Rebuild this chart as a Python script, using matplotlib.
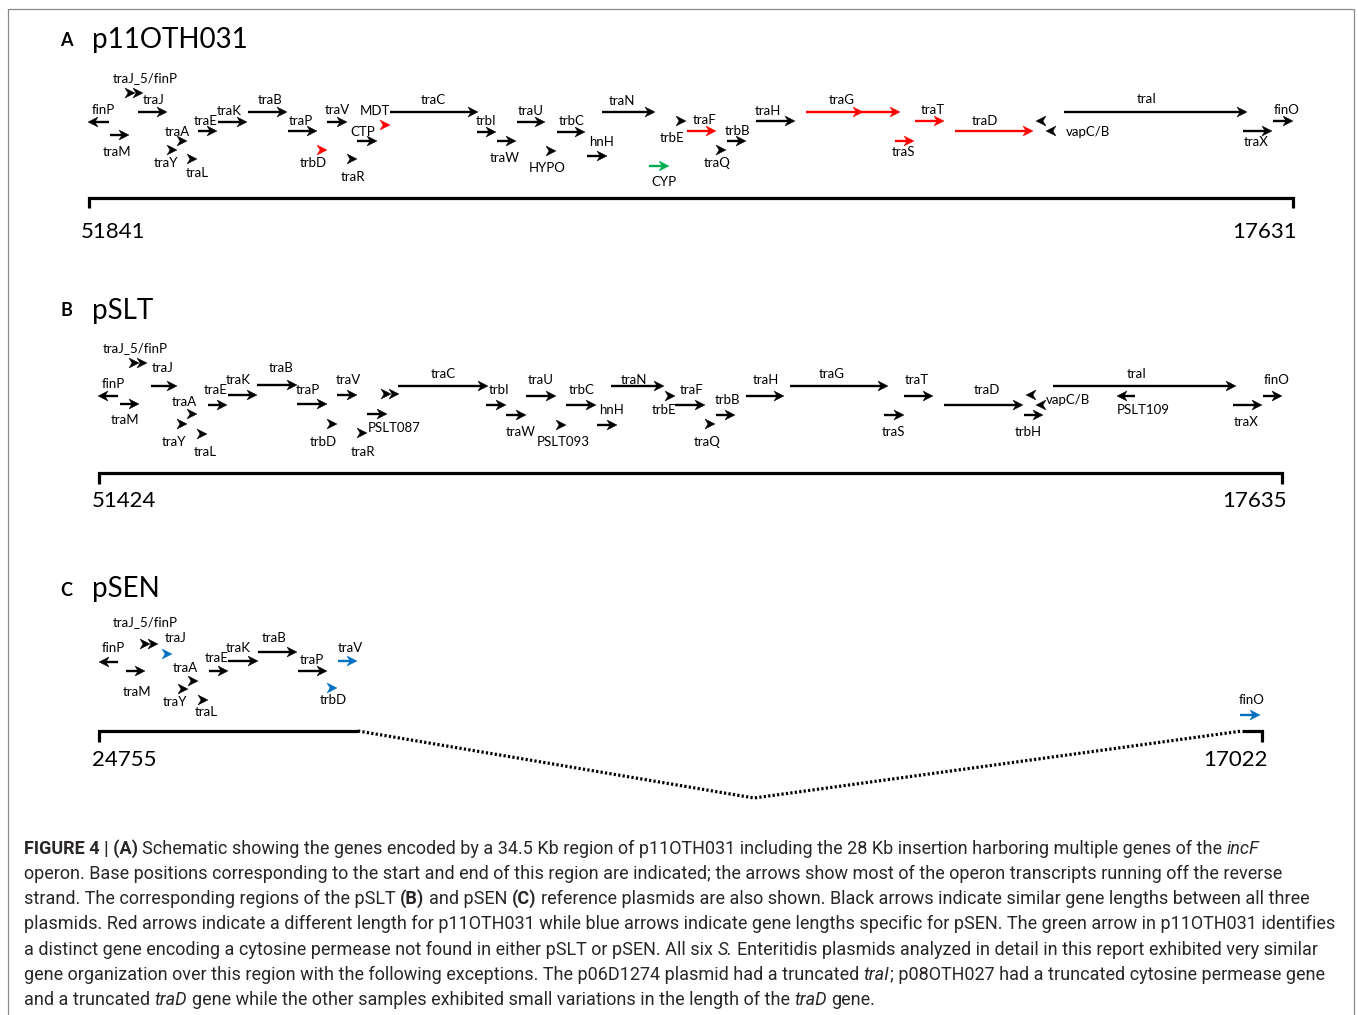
import matplotlib.pyplot as plt
from matplotlib.patches import Polygon, Rectangle

# ---- gene maps (map coordinate along the region, track = row position) ----
# kind: 'line' = full arrow, 'head' = short gene drawn as arrow head, 'double' = two heads
# colour code: k = similar length, r = different in p11OTH031, b = pSEN specific, g = unique

# A  p11OTH031
a_name = ['finP', 'traM', 'traJ_5/finP', 'traJ', 'traA', 'traY', 'traL', 'traE', 'traK', 'traB',
          'traP', 'trbD', 'traV', 'traR', 'CTP', 'MDT', 'traC', 'trbI', 'traW', 'traU', 'HYPO',
          'trbC', 'hnH', 'traN', 'trbE', 'CYP', 'traF', 'traQ', 'trbB', 'traH', 'traG', '',
          'traS', 'traT', 'traD', '', 'vapC/B', 'traI', 'traX', 'finO']
a_start = [109, 110, 125, 138, 177, 167, 187, 198, 218, 248, 288, 317, 327, 347, 357, 380, 390,
           477, 497, 517, 546, 557, 587, 602, 676, 649, 687, 716, 727, 756, 806, 860, 895, 915,
           955, 1045, 1055, 1064, 1243, 1273]
a_end = [88, 129, 143, 167, 187, 177, 197, 217, 247, 287, 317, 327, 347, 357, 377, 390, 478,
         496, 516, 545, 556, 585, 607, 655, 686, 669, 716, 726, 746, 795, 863, 900, 914, 944,
         1033, 1036, 1046, 1247, 1272, 1293]
a_track = [122, 135, 93, 112, 141, 150, 159, 131, 122, 112, 131, 150, 122, 159, 141, 125, 112,
           132, 141, 122, 151, 132, 156, 112, 121, 166, 131, 150, 141, 121, 112, 112, 141, 121,
           131, 121, 131, 112, 131, 121]
a_kind = ['line', 'line', 'double', 'line', 'head', 'head', 'head', 'line', 'line', 'line',
          'line', 'head', 'line', 'head', 'line', 'head', 'line', 'line', 'line', 'line', 'head',
          'line', 'line', 'line', 'head', 'line', 'line', 'head', 'line', 'line', 'line', 'line',
          'line', 'line', 'line', 'head', 'head', 'line', 'line', 'line']
a_color = ['k', 'k', 'k', 'k', 'k', 'k', 'k', 'k', 'k', 'k', 'k', 'r', 'k', 'k', 'k', 'r', 'k',
           'k', 'k', 'k', 'k', 'k', 'k', 'k', 'k', 'g', 'r', 'k', 'k', 'k', 'r', 'r', 'r', 'r',
           'r', 'k', 'k', 'k', 'k', 'k']

# B  pSLT
b_name = ['traJ_5/finP', 'traJ', 'finP', 'traM', 'traA', 'traY', 'traL', 'traE', 'traK', 'traB',
          'traP', 'trbD', 'traV', 'traR', '', 'PSLT087', 'traC', 'trbI', 'traW', 'traU',
          'PSLT093', 'trbC', 'hnH', 'traN', 'trbE', 'traF', 'traQ', 'trbB', 'traH', 'traG',
          'traS', 'traT', 'traD', '', 'vapC/B', 'trbH', 'traI', 'PSLT109', 'traX', 'finO']
b_start = [130, 151, 118, 120, 187, 178, 198, 208, 228, 257, 297, 327, 337, 357, 385, 367, 398,
           486, 506, 526, 556, 566, 597, 611, 665, 675, 705, 716, 746, 790, 884, 904, 944, 1035,
           1045, 1024, 1053, 1135, 1233, 1263]
b_end = [147, 177, 98, 139, 197, 187, 207, 227, 257, 297, 327, 337, 357, 367, 399, 387, 488,
         506, 526, 556, 566, 596, 617, 664, 675, 705, 715, 735, 784, 888, 904, 933, 1023, 1026,
         1036, 1043, 1236, 1117, 1262, 1282]
b_track = [363, 386, 396, 404, 414, 424, 434, 405, 395, 385, 404, 424, 395, 433, 394, 414, 386,
           405, 415, 396, 425, 405, 425, 386, 396, 405, 424, 415, 396, 386, 415, 396, 405, 395,
           405, 415, 386, 396, 405, 396]
b_kind = ['double', 'line', 'line', 'line', 'head', 'head', 'head', 'line', 'line', 'line',
          'line', 'head', 'line', 'head', 'double', 'line', 'line', 'line', 'line', 'line',
          'head', 'line', 'line', 'line', 'head', 'line', 'head', 'line', 'line', 'line',
          'line', 'line', 'line', 'head', 'head', 'line', 'line', 'line', 'line', 'line']
b_color = ['k'] * len(b_name)

# C  pSEN
c_name = ['traJ_5/finP', 'traJ', 'finP', 'traM', 'traA', 'traY', 'traL', 'traE', 'traK', 'traB',
          'traP', 'traV', 'trbD', 'finO']
c_start = [141, 159, 118, 126, 189, 178, 198, 209, 228, 258, 298, 338, 327, 1240]
c_end = [158, 172, 99, 145, 198, 188, 208, 228, 258, 297, 327, 357, 337, 1260]
c_track = [644, 654, 662, 671, 681, 689, 700, 671, 661, 652, 671, 661, 688, 715]
c_kind = ['double', 'head', 'line', 'line', 'head', 'head', 'head', 'line', 'line', 'line',
          'line', 'line', 'head', 'line']
c_color = ['k', 'b', 'k', 'k', 'k', 'k', 'k', 'k', 'k', 'k', 'k', 'b', 'b', 'b']

# region ends (base positions)
a_bases = ['51841', '17631']
b_bases = ['51424', '17635']
c_bases = ['24755', '17022']
titles = ['p11OTH031', 'pSLT', 'pSEN']
letters = ['A', 'B', 'C']

# ---- layout: label positions ----
a_lab = [(103, 109), (117, 151), (145, 78), (154, 99), (177, 131), (166, 162), (197, 172),
         (206, 120), (229, 110), (270, 99), (301, 120), (313, 162), (337, 109), (353, 176),
         (363, 131), (375, 110), (433, 99), (486, 120), (505, 157), (531, 110), (547, 167),
         (572, 120), (601, 141), (622, 100), (672, 137), (664, 181), (705, 119), (717, 162),
         (737, 130), (768, 110), (842, 99), None, (903, 151), (933, 109), (985, 120), None,
         (1088, 131), (1147, 98), (1256, 141), (1287, 109)]
b_lab = [(135, 348), (163, 368), (113, 383), (125, 420), (184, 401), (174, 442), (205, 452),
         (216, 390), (238, 379), (281, 368), (308, 390), (323, 442), (348, 379), (363, 452),
         None, (394, 427), (443, 373), (499, 390), (521, 431), (541, 379), (563, 441),
         (582, 389), (612, 410), (634, 379), (664, 410), (692, 390), (707, 442), (727, 400),
         (766, 379), (832, 373), (893, 431), (917, 379), (987, 389), None, (1068, 399),
         (1028, 431), (1137, 373), (1143, 410), (1246, 421), (1277, 379)]
c_lab = [(145, 622), (176, 638), (113, 648), (137, 691), (185, 668), (175, 701), (206, 712),
         (217, 658), (238, 648), (274, 638), (312, 659), (350, 648), (333, 700), (1252, 700)]

COLORS = {'k': 'black', 'r': '#ff0000', 'g': '#00b050', 'b': '#0070c0'}
GENE_FONT = 'Lato'
HEAD_L, HEAD_W, NOTCH = 10, 5, 3

fig = plt.figure(figsize=(13.58, 10.15), dpi=100)
ax = fig.add_axes([0, 0, 1, 1])
ax.set_xlim(0, 1358)
ax.set_ylim(1015, 0)
ax.axis('off')

ax.add_patch(Rectangle((8, 9), 1346, 1030, fill=False, ec='#8a8a8a', lw=0.9))


def head(x_tip, y, d, col):
    pts = [(x_tip, y), (x_tip - d * HEAD_L, y - HEAD_W), (x_tip - d * (HEAD_L - NOTCH), y),
           (x_tip - d * HEAD_L, y + HEAD_W)]
    ax.add_patch(Polygon(pts, closed=True, fc=col, ec=col, lw=0.3))


def draw_genes(names, starts, ends, tracks, kinds, cols, labels):
    for n, s, e, y, k, c, lab in zip(names, starts, ends, tracks, kinds, cols, labels):
        col = COLORS[c]
        d = 1 if e > s else -1
        if k == 'line':
            ax.plot([s, e - d * (HEAD_L - NOTCH)], [y, y], color=col, lw=1.7,
                    solid_capstyle='butt')
            head(e, y, d, col)
        elif k == 'head':
            head(e, y, d, col)
        else:
            head(e, y, d, col)
            head(e - d * 8, y, d, col)
        if lab is not None and n:
            ax.text(lab[0], lab[1] + 0.5, n, ha='center', va='center', fontsize=9.5,
                    family=GENE_FONT, color='black')


draw_genes(a_name, a_start, a_end, a_track, a_kind, a_color, a_lab)
draw_genes(b_name, b_start, b_end, b_track, b_kind, b_color, b_lab)
draw_genes(c_name, c_start, c_end, c_track, c_kind, c_color, c_lab)

# panel titles
for letter, title, ty in zip(letters, titles, [38, 309, 588]):
    ax.text(60, ty + 2, letter, ha='left', va='center', fontsize=13, fontweight='bold',
            family=GENE_FONT)
    ax.text(92, ty + 1.5, title, ha='left', va='center', fontsize=20, family=GENE_FONT)

# scale bars
bar_kw = dict(color='black', lw=2.3, solid_capstyle='butt', solid_joinstyle='miter')
ax.plot([89, 89, 1293, 1293], [208, 198, 198, 208], **bar_kw)
ax.plot([99, 99, 1282, 1282], [484, 473, 473, 484], **bar_kw)
ax.plot([99, 99, 358], [742, 731, 731], **bar_kw)
ax.plot([1242, 1262, 1262], [731, 731, 742], **bar_kw)
ax.plot([358, 754, 1242], [731, 798, 731], color='black', lw=2.3, linestyle=(0, (0.7, 0.7)),
        dash_capstyle='butt')

for bases, y, xs in [(a_bases, 232, (113, 1265)), (b_bases, 501, (124, 1255)),
                     (c_bases, 760, (124, 1235))]:
    for txt, x in zip(bases, xs):
        ax.text(x, y, txt, ha='center', va='center', fontsize=16, family=GENE_FONT)

# ---- caption ----
cap_lines = [
    [('FIGURE 4 | (A)', 'b', False),
     ('Schematic showing the genes encoded by a 34.5 Kb region of p11OTH031 including the 28 Kb '
      'insertion harboring multiple genes of the', 'r', True), ('incF', 'i', True)],
    [('operon. Base positions corresponding to the start and end of this region are indicated; the '
      'arrows show most of the operon transcripts running off the reverse', 'r', False)],
    [('strand. The corresponding regions of the pSLT', 'r', False), ('(B)', 'b', True),
     ('and pSEN', 'r', True), ('(C)', 'b', True),
     ('reference plasmids are also shown. Black arrows indicate similar gene lengths between all '
      'three', 'r', True)],
    [('plasmids. Red arrows indicate a different length for p11OTH031 while blue arrows indicate '
      'gene lengths specific for pSEN. The green arrow in p11OTH031 identifies', 'r', False)],
    [('a distinct gene encoding a cytosine permease not found in either pSLT or pSEN. All six',
      'r', False), ('S.', 'i', True),
     ('Enteritidis plasmids analyzed in detail in this report exhibited very similar', 'r', True)],
    [('gene organization over this region with the following exceptions. The p06D1274 plasmid had '
      'a truncated', 'r', False), ('traI', 'i', True),
     ('; p08OTH027 had a truncated cytosine permease gene', 'r', False)],
    [('and a truncated', 'r', False), ('traD', 'i', True),
     ('gene while the other samples exhibited small variations in the length of the', 'r', True),
     ('traD', 'i', True), ('gene.', 'r', True)],
]
cap_y = [849, 874, 899, 924, 950, 975, 1000]

CAP_FONT = 'Roboto'
renderer = fig.canvas.get_renderer()
STYLE = {'r': {}, 'b': {'fontweight': 'bold'}, 'i': {'fontstyle': 'italic'}}


def width(txt, size, st):
    t = ax.text(0, 0, txt, fontsize=size, family=CAP_FONT, **STYLE[st])
    w = t.get_window_extent(renderer).width
    t.remove()
    return w


size = 10
w4 = width(cap_lines[3][0][0], size, 'r')
size = size * (1339 - 24) / w4
space = width('a a', size, 'r') - width('aa', size, 'r')

for segs, y in zip(cap_lines, cap_y):
    x = 24
    for txt, st, sp in segs:
        if sp:
            x += space
        ax.text(x, y, txt, ha='left', va='center', fontsize=size, family=CAP_FONT,
                color='#2a2627', **STYLE[st])
        x += width(txt, size, st)

fig.savefig('out.png', dpi=100)
